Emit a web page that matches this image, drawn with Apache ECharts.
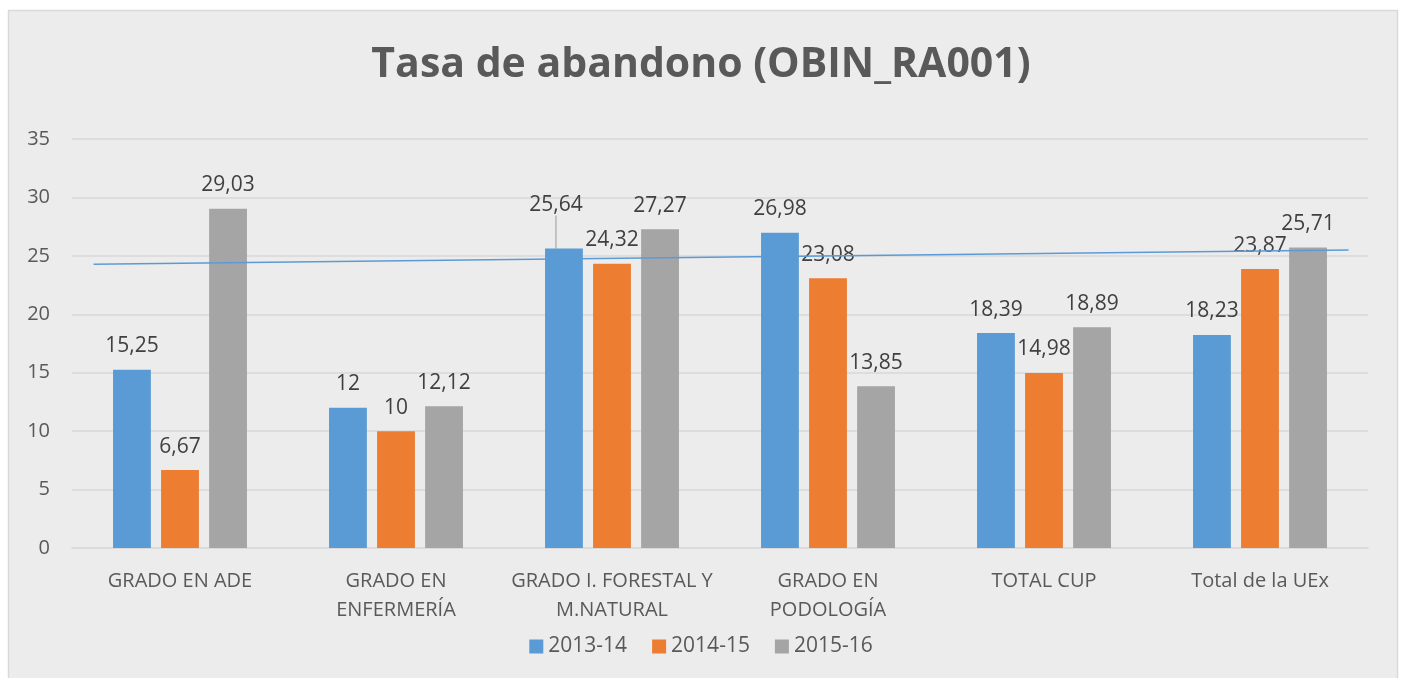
<!DOCTYPE html>
<html>
<head>
<meta charset="utf-8">
<script src="https://cdn.jsdelivr.net/npm/echarts@6/dist/echarts.min.js"></script>
<style>
html,body{margin:0;padding:0;background:#ffffff;}
#c{width:1402px;height:678px;}
</style>
</head>
<body>
<div id="c"></div>
<script>
const titleText = 'Tasa de abandono (OBIN_RA001)';
const categories = ['GRADO EN ADE', 'GRADO EN\nENFERMERÍA', 'GRADO I. FORESTAL Y\nM.NATURAL', 'GRADO EN\nPODOLOGÍA', 'TOTAL CUP', 'Total de la UEx'];
const seriesNames = ['2013-14', '2014-15', '2015-16'];
const s2013 = [15.25, 12, 25.64, 26.98, 18.39, 18.23];
const s2014 = [6.67, 10, 24.32, 23.08, 14.98, 23.87];
const s2015 = [29.03, 12.12, 27.27, 13.85, 18.89, 25.71];
const trendX = [0.1, 5.91];
const trendY = [24.28, 25.5];
const yTicks = {min: 0, max: 35, interval: 5};

const colors = ['#5b9bd5', '#ed7d31', '#a5a5a5'];
const font = "'Open Sans', 'Noto Sans', sans-serif";
const movedLabelIndex = 2;

function fmt(v){ return String(v).replace('.', ','); }

function barSeries(name, data, color, extra){
  return Object.assign({
    name: name,
    type: 'bar',
    data: data,
    itemStyle: {color: color},
    barGap: '27%',
    barCategoryGap: '38%',
    label: {
      show: true, position: 'top', distance: 13,
      fontFamily: font, fontSize: 21, color: '#404040',
      formatter: p => fmt(p.value)
    },
    z: 3
  }, extra || {});
}

const chart = echarts.init(document.getElementById('c'), null, {renderer: 'canvas'});
chart.setOption({
  animation: false,
  backgroundColor: '#ffffff',
  graphic: [{
    type: 'rect', z: -100, silent: true,
    shape: {x: 8.5, y: 10.5, width: 1389, height: 700},
    style: {fill: '#ececec', stroke: '#d9d9d9', lineWidth: 1.5}
  }],
  title: {
    text: titleText, left: 'center', top: 40,
    textStyle: {fontFamily: font, fontWeight: 'bold', fontSize: 41, color: '#595959'}
  },
  legend: {
    data: seriesNames, bottom: 16, left: 'center', icon: 'rect',
    itemWidth: 14, itemHeight: 14, itemGap: 25,
    textStyle: {fontFamily: font, fontSize: 21, color: '#595959'}
  },
  grid: {left: 72, right: 34, top: 139, bottom: 130},
  xAxis: [{
    type: 'category', data: categories,
    axisLine: {show: true, lineStyle: {color: '#d9d9d9', width: 1.5}},
    axisTick: {show: false},
    axisLabel: {fontFamily: font, fontSize: 20, color: '#595959', margin: 19, lineHeight: 29, interval: 0}
  }, {
    type: 'value', min: 0, max: 6, show: false
  }],
  yAxis: {
    type: 'value', min: yTicks.min, max: yTicks.max, interval: yTicks.interval,
    axisLine: {show: false}, axisTick: {show: false},
    splitLine: {lineStyle: {color: '#d9d9d9', width: 1.5}},
    axisLabel: {fontFamily: font, fontSize: 20, color: '#595959', margin: 22}
  },
  series: [
    barSeries(seriesNames[0], s2013.map((v, i) => i === movedLabelIndex
      ? {value: v, labelLine: {show: true, lineStyle: {color: '#a6a6a6', width: 1.2}}}
      : v), colors[0], {
      labelLayout: function(p){ if (p.dataIndex === movedLabelIndex) return {dx: -8, dy: -20}; return {}; },
      labelLine: {show: false}
    }),
    barSeries(seriesNames[1], s2014, colors[1]),
    barSeries(seriesNames[2], s2015, colors[2]),
    {
      name: 'trend', type: 'line', xAxisIndex: 1, yAxisIndex: 0,
      data: trendX.map((x, i) => [x, trendY[i]]),
      showSymbol: false, symbol: 'none',
      lineStyle: {color: '#5b9bd5', width: 1.3}, z: 5, silent: true
    }
  ]
});
</script>
</body>
</html>
